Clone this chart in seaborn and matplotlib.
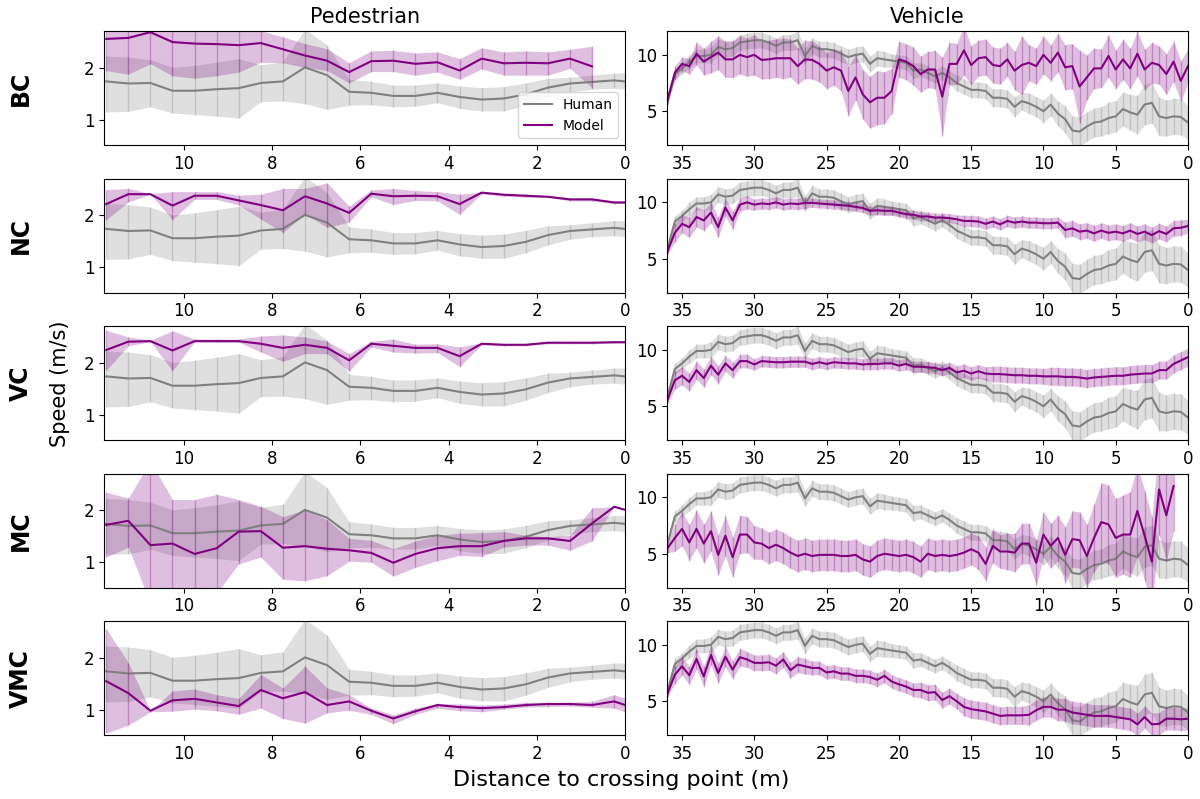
import numpy as np
import seaborn as sns
import matplotlib.pyplot as plt

nan = np.nan

# ---------------- data ----------------
rows = ["BC", "NC", "VC", "MC", "VMC"]

# pedestrian: distance to crossing point (m)
ped_x = [11.75, 11.25, 10.75, 10.25, 9.75, 9.25, 8.75, 8.25, 7.75, 7.25, 6.75, 6.25,
         5.75, 5.25, 4.75, 4.25, 3.75, 3.25, 2.75, 2.25, 1.75, 1.25, 0.75, 0.25, 0.0]

ped_human = [1.74, 1.70, 1.71, 1.56, 1.56, 1.59, 1.61, 1.71, 1.74, 2.01, 1.86, 1.54, 1.52,
             1.46, 1.46, 1.52, 1.44, 1.39, 1.41, 1.49, 1.62, 1.70, 1.73, 1.76, 1.74]
ped_human_hi = [2.23, 2.21, 2.16, 2.01, 2.05, 2.11, 2.18, 2.06, 2.12, 2.75, 2.44, 1.78, 1.74,
                1.67, 1.67, 1.71, 1.65, 1.62, 1.64, 1.71, 1.80, 1.82, 1.86, 1.90, 1.90]
ped_human_lo = [1.15, 1.16, 1.25, 1.13, 1.10, 1.07, 1.03, 1.35, 1.36, 1.31, 1.20, 1.28, 1.29,
                1.25, 1.26, 1.33, 1.22, 1.17, 1.17, 1.28, 1.43, 1.54, 1.59, 1.61, 1.59]

ped_bc = [2.56, 2.58, 2.69, 2.50, 2.47, 2.46, 2.44, 2.48, 2.36, 2.24, 2.14, 1.92, 2.13,
          2.14, 2.08, 2.11, 1.95, 2.18, 2.09, 2.10, 2.09, 2.18, 2.03, nan, nan]
ped_bc_hi = [2.90, 2.92, 3.00, 2.95, 2.95, 2.95, 2.95, 2.72, 2.60, 2.47, 2.37, 2.10, 2.33,
             2.34, 2.29, 2.31, 2.18, 2.39, 2.31, 2.33, 2.31, 2.36, 2.42, nan, nan]
ped_bc_lo = [1.95, 1.88, 2.08, 1.85, 1.80, 1.85, 1.92, 2.11, 2.10, 2.01, 1.95, 1.71, 1.93,
             1.93, 1.86, 1.92, 1.78, 1.98, 1.86, 1.86, 1.86, 1.99, 1.62, nan, nan]

ped_nc = [2.22, 2.41, 2.41, 2.19, 2.38, 2.38, 2.29, 2.20, 2.10, 2.37, 2.23, 2.05, 2.42,
          2.37, 2.38, 2.37, 2.22, 2.44, 2.40, 2.38, 2.36, 2.31, 2.31, 2.25, 2.25]
ped_nc_hi = [2.50, 2.52, 2.42, 2.46, 2.46, 2.46, 2.39, 2.41, 2.52, 2.52, 2.63, 2.18, 2.49,
             2.52, 2.48, 2.46, 2.41, 2.45, 2.42, 2.41, 2.37, 2.33, 2.33, 2.28, 2.28]
ped_nc_lo = [1.92, 2.26, 2.41, 1.92, 2.31, 2.31, 2.20, 1.93, 1.67, 2.03, 1.77, 1.87, 2.36,
             2.21, 2.29, 2.28, 2.02, 2.42, 2.37, 2.35, 2.35, 2.28, 2.28, 2.23, 2.23]

ped_vc = [2.25, 2.41, 2.42, 2.24, 2.42, 2.42, 2.42, 2.37, 2.29, 2.35, 2.29, 2.05, 2.37,
          2.33, 2.29, 2.29, 2.13, 2.37, 2.35, 2.35, 2.39, 2.39, 2.39, 2.40, 2.40]
ped_vc_hi = [2.63, 2.50, 2.44, 2.62, 2.46, 2.46, 2.46, 2.52, 2.54, 2.50, 2.42, 2.18, 2.42,
             2.46, 2.36, 2.37, 2.31, 2.39, 2.37, 2.37, 2.41, 2.41, 2.41, 2.42, 2.42]
ped_vc_lo = [1.86, 2.33, 2.41, 1.85, 2.41, 2.40, 2.40, 2.21, 2.03, 2.18, 2.18, 1.84, 2.31,
             2.21, 2.19, 2.20, 1.93, 2.35, 2.33, 2.33, 2.37, 2.37, 2.37, 2.38, 2.38]

ped_mc = [1.72, 1.80, 1.33, 1.36, 1.16, 1.27, 1.59, 1.60, 1.28, 1.31, 1.26, 1.23, 1.18,
          0.99, 1.16, 1.27, 1.31, 1.31, 1.41, 1.46, 1.46, 1.41, 1.75, 2.07, 2.01]
ped_mc_hi = [2.35, 2.24, 2.95, 2.21, 2.21, 2.31, 2.21, 2.08, 1.88, 2.01, 1.82, 1.46, 1.42,
             1.26, 1.41, 1.52, 1.56, 1.57, 1.59, 1.52, 1.49, 1.52, 2.05, 2.07, 2.01]
ped_mc_lo = [1.10, 1.29, 0.20, 0.30, 0.35, 0.40, 0.97, 1.10, 0.67, 0.64, 0.74, 1.02, 1.00,
             0.73, 0.90, 1.03, 1.13, 1.11, 1.29, 1.33, 1.33, 1.23, 1.41, 2.07, 2.01]

ped_vmc = [1.55, 1.32, 0.98, 1.18, 1.21, 1.14, 1.07, 1.38, 1.22, 1.34, 1.09, 1.16, 0.98,
           0.83, 0.97, 1.09, 1.05, 1.03, 1.05, 1.09, 1.11, 1.11, 1.09, 1.16, 1.09]
ped_vmc_hi = [2.56, 1.91, 0.98, 1.36, 1.40, 1.29, 1.22, 1.68, 1.42, 1.84, 1.42, 1.29, 1.03,
              0.90, 1.03, 1.12, 1.11, 1.09, 1.11, 1.14, 1.14, 1.14, 1.16, 1.29, 1.22]
ped_vmc_lo = [0.55, 0.70, 0.96, 0.97, 1.01, 0.98, 0.91, 1.03, 0.83, 0.74, 0.94, 0.99, 0.91,
              0.73, 0.91, 1.03, 0.98, 0.96, 1.01, 1.05, 1.06, 1.07, 1.05, 1.03, 0.96]

# vehicle: 0.5 m bins from 36 m down to 0 m
veh_x = np.arange(36.0, -0.25, -0.5)

veh_human = [5.9, 8.3, 8.8, 9.4, 9.9, 9.9, 10.0, 10.7, 10.5, 10.6,
             11.1, 11.2, 11.3, 11.3, 11.1, 10.8, 11.1, 11.1, 11.3, 9.9,
             10.8, 10.5, 10.5, 10.4, 10.1, 9.8, 10.0, 10.1, 9.2, 9.7,
             9.6, 9.5, 9.4, 9.3, 8.6, 8.7, 8.4, 8.1, 8.4, 8.0,
             7.5, 7.2, 6.9, 6.9, 6.8, 6.2, 6.2, 6.1, 5.4, 5.9,
             5.7, 5.4, 5.0, 5.6, 4.8, 4.3, 3.3, 3.2, 3.65, 4.0,
             4.1, 4.4, 4.55, 5.2, 4.9, 4.7, 5.6, 5.75, 4.55, 4.4,
             4.55, 4.5, 4.0]
veh_human_ci = [0.3, 0.5, 0.5, 0.6, 0.6, 0.6, 0.7, 0.7, 0.7, 0.7,
                0.7, 0.7, 0.7, 0.7, 0.7, 0.7, 0.7, 0.7, 0.8, 0.7,
                0.7, 0.7, 0.7, 0.7, 0.7, 0.7, 0.7, 0.7, 0.7, 0.7,
                0.7, 0.6, 0.6, 0.6, 0.7, 0.6, 0.6, 0.6, 0.6, 0.6,
                0.7, 0.7, 0.7, 0.7, 0.7, 0.8, 0.8, 0.8, 0.9, 0.8,
                0.9, 0.9, 1.0, 1.0, 1.1, 1.2, 1.3, 1.3, 1.3, 1.3,
                1.3, 1.4, 1.4, 1.5, 1.6, 1.7, 1.8, 1.8, 1.7, 1.6,
                1.6, 1.6, 1.5]

veh_bc = [6.05, 8.4, 9.2, 9.0, 10.1, 9.4, 9.8, 10.2, 9.6, 9.6,
          10.0, 9.8, 10.0, 9.55, 9.6, 9.7, 9.7, 9.7, 9.0, 9.6,
          9.55, 9.2, 8.6, 8.9, 8.6, 6.8, 8.0, 6.5, 5.8, 6.2,
          6.2, 6.8, 9.6, 9.4, 9.0, 8.3, 8.7, 8.7, 6.3, 9.2,
          9.2, 10.4, 9.1, 9.7, 9.8, 9.1, 9.0, 9.6, 8.6, 9.1,
          9.3, 9.0, 10.0, 9.3, 10.2, 8.9, 9.0, 7.2, 8.0, 8.8,
          8.8, 9.9, 8.7, 9.6, 8.8, 10.1, 8.7, 9.3, 9.1, 8.3,
          9.4, 7.7, 9.0]
veh_bc_ci = [0.3, 0.6, 0.6, 0.7, 1.0, 1.2, 1.4, 1.5, 1.6, 1.6,
             1.7, 1.7, 1.8, 1.7, 1.7, 1.7, 1.8, 1.7, 1.6, 1.7,
             1.7, 1.6, 1.6, 1.6, 1.8, 2.2, 2.0, 2.2, 2.3, 2.4,
             2.3, 2.0, 1.6, 1.6, 1.7, 1.6, 1.6, 1.7, 3.5, 1.9,
             1.8, 2.2, 1.7, 1.6, 1.6, 1.6, 1.6, 1.5, 1.7, 2.6,
             1.6, 1.6, 1.7, 1.6, 1.7, 2.0, 2.0, 3.2, 2.0, 1.8,
             1.7, 1.9, 1.7, 1.8, 1.8, 2.0, 1.8, 1.8, 1.7, 1.8,
             1.8, 1.8, 1.5]

veh_nc = [5.7, 7.3, 8.1, 7.8, 8.7, 8.4, 9.1, 7.8, 9.55, 8.4,
          9.8, 10.0, 9.8, 9.9, 9.85, 10.0, 9.8, 9.9, 9.85, 9.95,
          9.95, 9.9, 9.85, 9.8, 9.75, 9.7, 9.6, 9.5, 9.25, 9.3,
          9.25, 9.25, 9.1, 8.95, 8.9, 8.75, 8.75, 8.65, 8.65, 8.6,
          8.5, 8.35, 8.35, 8.3, 8.1, 8.3, 8.05, 8.35, 8.2, 8.3,
          8.2, 8.2, 8.15, 8.15, 8.2, 7.55, 7.7, 7.4, 7.5, 7.25,
          7.5, 7.3, 7.4, 7.25, 7.5, 7.2, 7.4, 7.1, 7.45, 7.2,
          7.7, 7.75, 7.9]
veh_nc_ci = [0.3, 0.8, 0.8, 0.9, 0.9, 0.9, 0.9, 0.9, 0.8, 0.8,
             0.6, 0.6, 0.5, 0.5, 0.5, 0.5, 0.5, 0.5, 0.5, 0.5,
             0.4, 0.4, 0.4, 0.4, 0.4, 0.4, 0.4, 0.4, 0.4, 0.4,
             0.4, 0.4, 0.4, 0.4, 0.4, 0.4, 0.4, 0.4, 0.4, 0.4,
             0.4, 0.5, 0.5, 0.5, 0.5, 0.5, 0.5, 0.5, 0.5, 0.5,
             0.5, 0.5, 0.5, 0.5, 0.5, 0.7, 0.7, 0.7, 0.7, 0.7,
             0.7, 0.7, 0.7, 0.7, 0.7, 0.7, 0.7, 0.7, 0.7, 0.7,
             0.7, 0.7, 0.6]

veh_vc = [5.6, 7.3, 7.7, 7.15, 8.2, 7.5, 8.6, 7.8, 8.8, 8.2,
          9.0, 9.0, 8.7, 9.0, 8.95, 8.9, 8.9, 8.95, 8.95, 8.95,
          8.75, 8.9, 8.75, 8.9, 8.85, 8.8, 8.8, 8.7, 8.75, 8.75,
          8.8, 8.8, 8.6, 8.75, 8.5, 8.5, 8.45, 8.4, 8.2, 8.4,
          8.0, 8.15, 7.9, 8.1, 7.9, 7.85, 7.85, 7.8, 7.75, 7.75,
          7.7, 7.7, 7.65, 7.65, 7.65, 7.6, 7.6, 7.55, 7.45, 7.55,
          7.6, 7.65, 7.7, 7.7, 7.8, 7.85, 7.9, 7.9, 8.2, 8.2,
          8.75, 9.05, 9.35]
veh_vc_ci = [0.3, 0.8, 0.8, 0.8, 0.8, 0.8, 0.8, 0.8, 0.7, 0.7,
             0.6, 0.6, 0.5, 0.5, 0.5, 0.5, 0.5, 0.5, 0.5, 0.5,
             0.5, 0.5, 0.5, 0.5, 0.5, 0.5, 0.5, 0.5, 0.5, 0.5,
             0.5, 0.5, 0.5, 0.5, 0.5, 0.5, 0.5, 0.5, 0.5, 0.5,
             0.6, 0.6, 0.6, 0.6, 0.6, 0.7, 0.7, 0.7, 0.7, 0.7,
             0.7, 0.7, 0.7, 0.8, 0.8, 0.8, 0.8, 0.8, 0.8, 0.8,
             0.8, 0.8, 0.8, 0.8, 0.8, 0.8, 0.8, 0.8, 0.8, 0.8,
             0.8, 0.8, 0.8]

veh_mc = [5.5, 6.4, 7.2, 6.0, 7.2, 5.9, 7.0, 4.9, 6.6, 4.7,
          6.7, 6.7, 6.0, 5.9, 5.5, 5.8, 5.5, 5.1, 4.8, 5.0,
          4.8, 4.9, 4.9, 4.9, 4.8, 4.8, 4.9, 4.5, 4.3, 4.8,
          5.0, 4.9, 4.8, 4.9, 4.7, 4.3, 5.0, 4.8, 4.9, 4.8,
          4.9, 5.1, 5.4, 5.1, 4.1, 5.7, 5.2, 5.2, 5.1, 5.9,
          5.9, 4.2, 6.7, 5.7, 6.4, 4.9, 6.3, 6.2, 4.8, 6.4,
          7.8, 7.6, 6.4, 6.7, 6.7, 8.8, 6.6, 4.3, 10.7, 8.4,
          11.0, nan, nan]
veh_mc_ci = [0.4, 1.2, 1.5, 1.6, 1.7, 1.7, 1.8, 1.8, 1.8, 1.8,
             1.7, 1.6, 1.5, 1.4, 1.4, 1.4, 1.4, 1.4, 1.4, 1.4,
             1.4, 1.4, 1.4, 1.4, 1.4, 1.4, 1.4, 1.4, 1.4, 1.4,
             1.4, 1.4, 1.4, 1.4, 1.4, 1.4, 1.4, 1.4, 1.4, 1.4,
             1.4, 1.4, 1.4, 1.5, 1.5, 1.5, 1.5, 1.6, 1.7, 1.8,
             1.8, 2.0, 2.0, 2.0, 2.0, 2.5, 2.5, 2.5, 2.8, 3.0,
             3.5, 3.5, 3.5, 3.5, 3.8, 4.0, 4.0, 4.0, 4.0, 4.0,
             4.0, nan, nan]

veh_vmc = [5.7, 7.35, 8.1, 7.3, 8.75, 7.2, 9.1, 7.5, 8.95, 7.8,
           8.9, 8.7, 8.4, 8.4, 8.45, 8.15, 8.7, 7.75, 8.25, 8.1,
           7.95, 7.95, 7.55, 7.65, 7.45, 7.45, 7.25, 7.25, 7.15, 6.9,
           7.25, 6.75, 6.5, 6.3, 6.0, 6.0, 5.75, 5.8, 5.1, 5.45,
           5.0, 4.5, 4.3, 4.2, 4.1, 3.9, 3.7, 3.75, 3.75, 3.75,
           3.8, 4.2, 4.5, 4.5, 4.25, 4.25, 4.0, 3.9, 3.8, 3.7,
           3.7, 3.7, 3.6, 3.5, 3.4, 2.95, 3.6, 2.95, 3.0, 3.45,
           3.45, 3.4, 3.45]
veh_vmc_ci = [0.3, 0.8, 0.8, 0.8, 0.9, 0.9, 0.9, 0.9, 0.9, 0.8,
              0.8, 0.7, 0.7, 0.7, 0.7, 0.7, 0.7, 0.7, 0.7, 0.7,
              0.6, 0.6, 0.6, 0.6, 0.6, 0.6, 0.6, 0.6, 0.6, 0.6,
              0.6, 0.6, 0.6, 0.6, 0.6, 0.7, 0.7, 0.7, 0.7, 0.7,
              0.7, 0.8, 0.8, 0.8, 0.8, 0.8, 0.8, 0.8, 0.8, 0.8,
              0.9, 0.9, 0.9, 0.9, 1.0, 1.0, 1.0, 1.0, 1.0, 1.0,
              1.0, 1.0, 1.0, 1.0, 1.0, 1.0, 1.0, 1.0, 1.0, 1.0,
              1.0, 1.0, 1.0]

ped_model = [(ped_bc, ped_bc_lo, ped_bc_hi), (ped_nc, ped_nc_lo, ped_nc_hi),
             (ped_vc, ped_vc_lo, ped_vc_hi), (ped_mc, ped_mc_lo, ped_mc_hi),
             (ped_vmc, ped_vmc_lo, ped_vmc_hi)]
veh_model = [(veh_bc, veh_bc_ci), (veh_nc, veh_nc_ci), (veh_vc, veh_vc_ci),
             (veh_mc, veh_mc_ci), (veh_vmc, veh_vmc_ci)]

HUMAN_C = "grey"
MODEL_C = "purple"


def band_line(ax, x, mean, lo, hi, color, label=None):
    x = np.asarray(x, float)
    mean = np.asarray(mean, float)
    lo = np.asarray(lo, float)
    hi = np.asarray(hi, float)
    ok = ~np.isnan(mean)
    ax.fill_between(x[ok], lo[ok], hi[ok], color=color, alpha=0.25, linewidth=0)
    ax.vlines(x[ok], lo[ok], hi[ok], colors=color, alpha=0.3, linewidth=1)
    sns.lineplot(x=x[ok], y=mean[ok], color=color, ax=ax, linewidth=1.5,
                 label=label, legend=False)


fig, axes = plt.subplots(5, 2, figsize=(12, 7.99), dpi=100)
fig.subplots_adjust(left=0.0867, right=0.99, top=0.961, bottom=0.08,
                    wspace=0.08, hspace=0.294)

for i, name in enumerate(rows):
    # pedestrian column
    ax = axes[i, 0]
    lab_h = "Human" if i == 0 else None
    lab_m = "Model" if i == 0 else None
    band_line(ax, ped_x, ped_human, ped_human_lo, ped_human_hi, HUMAN_C, lab_h)
    m, lo, hi = ped_model[i]
    band_line(ax, ped_x, m, lo, hi, MODEL_C, lab_m)
    ax.set_xlim(11.8, 0)
    ax.set_ylim(0.51, 2.71)
    ax.set_xticks([10, 8, 6, 4, 2, 0])
    ax.set_yticks([1, 2])
    ax.set_xlabel("")
    ax.set_ylabel("")
    ax.tick_params(labelsize=12)
    if i == 0:
        ax.legend(loc="lower right", fontsize=10)
        ax.set_title("Pedestrian", fontsize=15)

    # vehicle column
    ax = axes[i, 1]
    vh = np.array(veh_human)
    vhc = np.array(veh_human_ci)
    band_line(ax, veh_x, vh, vh - vhc, vh + vhc, HUMAN_C)
    vm = np.array(veh_model[i][0], float)
    vc = np.array(veh_model[i][1], float)
    band_line(ax, veh_x, vm, vm - vc, vm + vc, MODEL_C)
    ax.set_xlim(36.05, 0)
    ax.set_ylim(2.0, 12.1)
    ax.set_xticks([35, 30, 25, 20, 15, 10, 5, 0])
    ax.set_yticks([5, 10])
    ax.set_xlabel("")
    ax.set_ylabel("")
    ax.tick_params(labelsize=12)
    if i == 0:
        ax.set_title("Vehicle", fontsize=15)

    pos = axes[i, 0].get_position()
    fig.text(0.017, (pos.y0 + pos.y1) / 2, name, rotation=90, fontsize=17,
             fontweight="bold", ha="center", va="center")

fig.text(0.05, 0.52, "Speed (m/s)", rotation=90, fontsize=15,
         ha="center", va="center")
fig.text(0.5175, 0.024, "Distance to crossing point (m)", fontsize=16,
         ha="center", va="center")

fig.savefig("out.png", dpi=100)
